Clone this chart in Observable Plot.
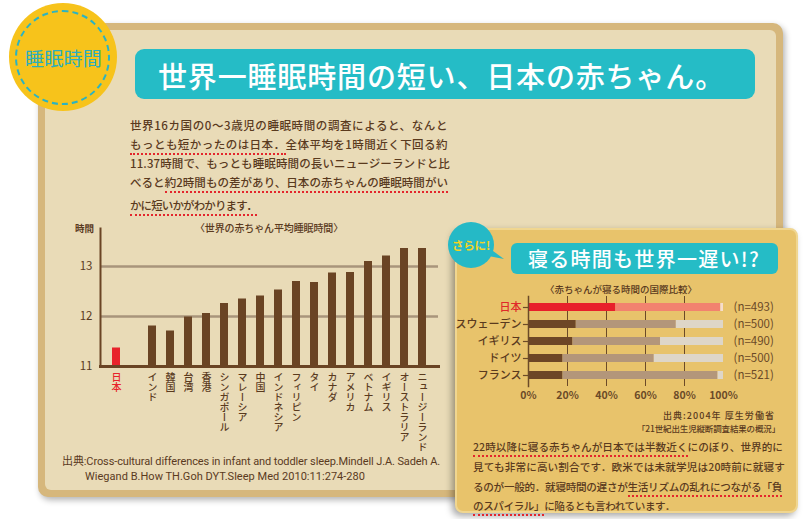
<!DOCTYPE html>
<html><head><meta charset="utf-8">
<script src="https://cdn.jsdelivr.net/npm/d3@7"></script>
<script src="https://cdn.jsdelivr.net/npm/@observablehq/plot@0.6"></script>
<style>
body{margin:0;background:#fff;}
#root{position:relative;width:805px;height:519px;overflow:hidden;font-family:"Noto Sans CJK JP","Noto Sans",sans-serif;color:#5a3a1e;}
.abs{position:absolute;}
.t{position:absolute;white-space:nowrap;}
.u{border-bottom:2px dotted #e3262c;padding-bottom:1px;}
.lp{font-size:11.5px;line-height:16px;color:#5a3a1e;left:130px;font-weight:500;}
.rp{font-size:10.6px;line-height:16px;color:#5a3a1e;left:473px;font-weight:500;}
</style></head><body><div id="root">
<div class="abs" style="left:38px;top:23px;width:745px;height:474px;background:#d6b77c;border-radius:10px;box-shadow:2px 3px 6px rgba(0,0,0,0.3)"></div>
<div class="abs" style="left:45px;top:30px;width:731px;height:460px;background:#e9dbb7;border-radius:6px"></div>

<div class="abs" style="left:9px;top:3px;width:108px;height:108px;border-radius:50%;background:#f7c31b"></div>
<div class="abs" style="left:15px;top:10px;width:95px;height:95px;box-sizing:border-box;border-radius:50%;border:2.5px dashed #2bb3c2"></div>
<div class="t" data-w="77" style="left:25px;top:47px;font-size:19px;line-height:22px;color:#2aaebf">睡眠時間</div>

<div class="abs" style="left:135px;top:49px;width:620px;height:50px;background:#25bcc6;border-radius:9px"></div>
<div class="t" data-w="567" style="left:158px;top:58px;font-size:29px;line-height:34px;color:#fff;font-weight:500">世界一睡眠時間の短い、日本の赤ちゃん。</div>

<div class="t lp" data-w="318" style="top:117px">世界16カ国の0〜3歳児の睡眠時間の調査によると、なんと</div>
<div class="t lp" data-w="318" style="top:136px"><span class="u">もっとも短かったのは日本．</span>全体平均を1時間近く下回る約</div>
<div class="t lp" data-w="320" style="top:155px">11.37時間で、もっとも睡眠時間の長いニュージーランドと比</div>
<div class="t lp" data-w="318" style="top:174px">べると<span class="u">約2時間もの差があり、日本の赤ちゃんの睡眠時間がい</span></div>
<div class="t lp" data-w="127" style="top:197px"><span class="u">かに短いかがわかります．</span></div>

<div class="t" style="left:75px;top:221px;font-size:9.5px;line-height:14px;font-weight:700;color:#5a3a1e">時間</div>
<div class="t" data-w="148" style="left:195px;top:221px;font-size:10px;line-height:14px;font-weight:500;color:#5a3a1e">〈世界の赤ちゃん平均睡眠時間〉</div>
<div id="leftChart" class="abs" style="left:0;top:220px"></div>

<div class="t" data-w="378" style="left:62px;top:454px;font-size:11px;line-height:16px;font-family:Roboto,'Noto Sans CJK JP';color:#5a3a1e">出典:Cross-cultural differences in infant and toddler sleep.Mindell J.A. Sadeh A.</div>
<div class="t" data-w="280" style="left:85px;top:469px;font-size:11px;line-height:16px;font-family:Roboto,'Noto Sans CJK JP';color:#5a3a1e">Wiegand B.How TH.Goh DYT.Sleep Med 2010:11:274-280</div>

<div class="abs" style="left:455px;top:228px;width:343px;height:285px;box-sizing:border-box;background:#e8c36b;border:2px solid #f0d690;border-radius:8px;box-shadow:-3px 3px 7px rgba(0,0,0,0.35)"></div>
<div class="abs" style="left:478px;top:240px;width:26px;height:20px;background:#25b9c6;clip-path:polygon(0 0,100% 95%,0 70%)"></div>
<div class="abs" style="left:448px;top:222px;width:46px;height:46px;border-radius:50%;background:#25b9c6"></div>
<div class="t" data-w="38" style="left:452px;top:237px;font-size:11.5px;line-height:16px;font-weight:700;color:#f6d321">さらに!</div>
<div class="abs" style="left:511px;top:243px;width:267px;height:31px;background:#25bcc6;border-radius:6px"></div>
<div class="t" data-w="232" style="left:528px;top:246px;font-size:20px;line-height:26px;font-weight:500;color:#fff">寝る時間も世界一遅い!?</div>
<div class="t" data-w="152" style="left:545px;top:282px;font-size:9.5px;line-height:14px;font-weight:500;color:#5a3a1e">〈赤ちゃんが寝る時間の国際比較〉</div>
<div id="rightChart" class="abs" style="left:460px;top:292px"></div>

<div class="t" data-w="112" style="left:663px;top:408px;font-size:9px;line-height:15px;font-weight:500;color:#5a3a1e">出典:2004年 厚生労働省</div>
<div class="t" data-w="143" style="left:637px;top:421px;font-size:8.5px;line-height:15px;font-weight:500;color:#5a3a1e">「21世紀出生児縦断調査結果の概況」</div>
<div class="t rp" data-w="310" style="top:439px"><span class="u">22時以降に寝る赤ちゃんが日本では半数近く</span>にのぼり、世界的に</div>
<div class="t rp" data-w="312" style="top:459px">見ても非常に高い割合です．欧米では未就学児は20時前に就寝す</div>
<div class="t rp" data-w="309" style="top:479px">るのが一般的．就寝時間の遅さが<span class="u">生活リズムの乱れにつながる「負</span></div>
<div class="t rp" data-w="202" style="top:498px"><span class="u">のスパイラル」</span>に陥るとも言われています．</div>
</div>
<script>
// ---- data: average infant sleep (hours) ----
const sleepCountries = ["日本","インド","韓国","台湾","香港","シンガポール","マレーシア","中国","インドネシア","フィリピン","タイ","カナダ","アメリカ","ベトナム","イギリス","オーストラリア","ニュージーランド"];
const sleepHours = [11.37,11.81,11.71,11.99,12.06,12.26,12.35,12.41,12.53,12.70,12.68,12.87,12.88,13.10,13.21,13.36,13.36];
const sleepTicks = [11,12,13];
// ---- data: bedtime share (%) ----
const bedCountries = ["日本","スウェーデン","イギリス","ドイツ","フランス"];
const after22 = [44.8,24.5,22.8,17.7,17.7];
const from20to22 = [53.8,51.3,44.9,46.8,79.5];
const before20 = [1.4,24.2,32.3,35.5,2.8];
const sampleN = [493,500,490,500,521];
const pctTicks = [0,20,40,60,80,100];

const BROWN = "#6a4424", TEXT = "#5a3a1e", RED = "#e8232b";
const JP = "日本";

// left chart
const sleepData = sleepCountries.map((c,i)=>({country:c, hours:sleepHours[i]}));
const xDomain = [sleepCountries[0], " ", ...sleepCountries.slice(1)];
const left = Plot.plot({
  width: 450, height: 230,
  marginLeft: 100, marginRight: 12, marginTop: 8, marginBottom: 84,
  style: {background:"transparent", fontFamily:"'Noto Sans CJK JP',sans-serif", overflow:"visible"},
  x: {domain: xDomain, paddingInner: 0.53, paddingOuter: 0.625, axis: null},
  y: {domain: [11, 13.76], axis: null},
  marks: [
    Plot.ruleY([12,13], {stroke:"#a8957b", strokeWidth:2.5}),
    Plot.barY(sleepData, {x:"country", y1: () => 11, y2:"hours", fill: d => d.country===JP ? RED : BROWN}),
    Plot.frame({anchor:"left", stroke:BROWN, strokeWidth:2}),
    Plot.frame({anchor:"bottom", stroke:BROWN, strokeWidth:3}),
    Plot.axisY(sleepTicks, {tickSize:0, tickPadding:8, fontSize:11.5, fill:TEXT, label:null, tickFormat: d => String(d)}),
    Plot.text(sleepData, {x:"country", text:"country", frameAnchor:"bottom", dy:6, textAnchor:"start", lineAnchor:"top", fontSize:10, fontWeight:500, fill: d => d.country===JP ? RED : TEXT})
  ]
});
d3.select(left).selectAll('g[aria-label="text"] text')
  .attr("writing-mode","vertical-rl").attr("y",null).attr("dy",null);
document.getElementById("leftChart").appendChild(left);

// right chart
const segColors = [["#e8202b","#f2826f","#f5ddcc"],["#6d4626","#b3967a","#ded6c8"]];
const bedRows = bedCountries.flatMap((c,i)=>[
  {country:c, k:0, v:after22[i]},
  {country:c, k:1, v:from20to22[i]},
  {country:c, k:2, v:before20[i]}
]);
const right = Plot.plot({
  width: 330, height: 112,
  marginLeft: 68, marginRight: 67, marginTop: 4, marginBottom: 18,
  style: {background:"transparent", fontFamily:"'Noto Sans CJK JP',sans-serif", overflow:"visible"},
  x: {domain:[0,100], axis:null},
  y: {domain: bedCountries, paddingInner:0.53, paddingOuter:0.4, axis:null},
  marks: [
    Plot.ruleX([20,40,60,80], {stroke:"#6b4a28", strokeWidth:1}),
    Plot.barX(bedRows, Plot.stackX({y:"country", x:"v", order:null, fill: d => segColors[d.country===JP?0:1][d.k]})),
    Plot.frame({anchor:"left", stroke:"#6b4a28", strokeWidth:1.5}),
    Plot.ruleY(bedCountries, {y: d=>d, x1: -2.6, x2: 0, stroke:"#6b4a28", strokeWidth:1.2}),
    Plot.text(bedCountries, {y: d=>d, text: d=>d, frameAnchor:"left", dx:-7, textAnchor:"end", fontSize:11, fontWeight:500, fill: d => d===JP ? "#e02a2a" : TEXT}),
    Plot.text(pctTicks, {x: d=>d, text: d=>d+"%", frameAnchor:"bottom", dy:12, fontSize:10.5, fontWeight:700, fill:"#6b4a28"}),
    Plot.text(bedCountries, {y: d=>d, text: (d,i)=>`(n=${sampleN[i]})`, frameAnchor:"right", dx:10, textAnchor:"start", fontSize:11.5, fill:"#6b4a28"})
  ]
});
document.getElementById("rightChart").appendChild(right);

function fitAll(){
  document.querySelectorAll("[data-w]").forEach(el=>{
    const w = +el.dataset.w;
    const n = [...el.textContent].length;
    el.style.letterSpacing = "0px";
    const nat = el.getBoundingClientRect().width;
    el.style.letterSpacing = ((w - nat)/n) + "px";
  });
}
fitAll();
if (document.fonts && document.fonts.ready) document.fonts.ready.then(fitAll);
</script>
</body></html>
